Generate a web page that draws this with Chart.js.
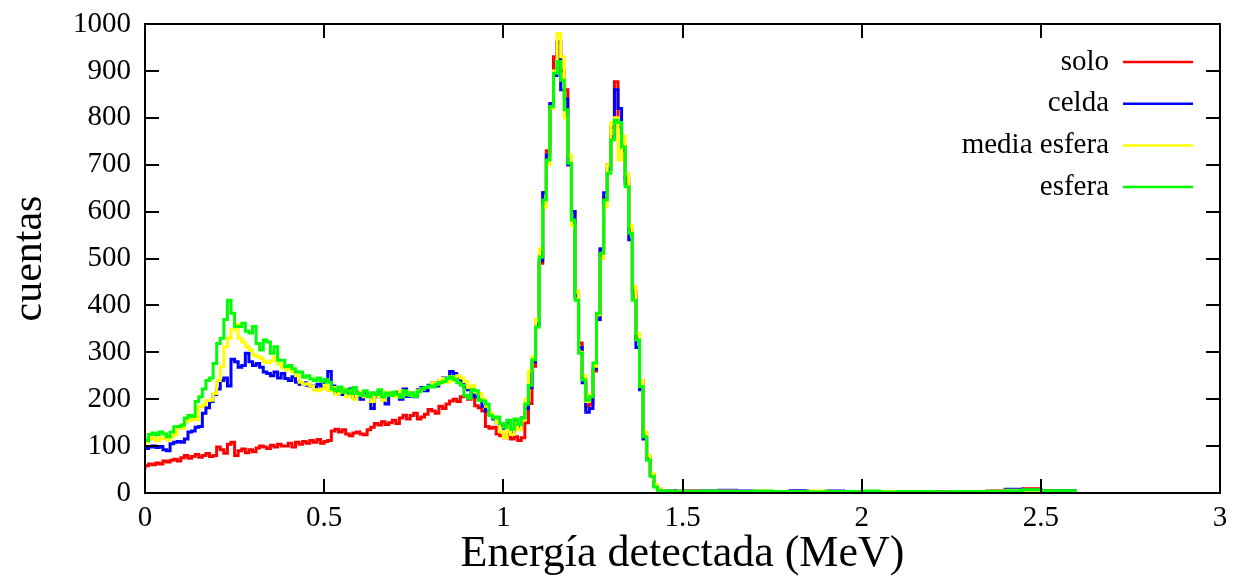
<!DOCTYPE html>
<html>
<head>
<meta charset="utf-8">
<script src="https://cdn.jsdelivr.net/npm/chart.js@4.4.0/dist/chart.umd.min.js"></script>
<style>
  html, body { margin: 0; padding: 0; background: #fff; }
  #wrap { width: 1236px; height: 581px; }
</style>
</head>
<body>
<div id="wrap"><canvas id="c" width="1236" height="581"></canvas></div>
<script>
// bins of 0.01 MeV from 0 to 1.5, then 0.05 MeV bins for the flat tail
const mainStep = 0.01
const tailStart = 1.5
const tailStep = 0.05

const seriesNames = ['solo', 'celda', 'media esfera', 'esfera']

const solo = [
  50, 58, 62, 60, 64, 62, 68, 66, 70, 72,
  68, 75, 80, 74, 78, 82, 76, 80, 84, 78,
  80, 98, 92, 85, 104, 108, 80, 90, 94, 86,
  92, 88, 96, 100, 98, 95, 102, 98, 104, 100,
  100, 106, 98, 108, 104, 110, 106, 112, 108, 114,
  106, 110, 112, 132, 136, 130, 135, 126, 122, 128,
  130, 126, 124, 135, 140, 148, 145, 152, 146, 150,
  155, 148, 160, 166, 158, 165, 170, 158, 162, 168,
  178, 175, 170, 185, 180, 190, 196, 200, 195, 205,
  208, 200, 205, 186, 182, 175, 142, 138, 140, 126,
  122, 118, 125, 115, 120, 112, 118, 150, 191, 270,
  370, 490, 640, 730, 830, 930, 960, 900, 860, 700,
  600, 430, 320, 245, 185, 190, 260, 370, 520, 630,
  700, 780, 877, 780, 740, 670, 560, 430, 330, 240,
  125, 75, 40, 16, 8, 5, 4, 3, 4, 3
]
const celda = [
  100, 95, 98, 100, 97, 99, 92, 90, 105, 108,
  110, 108, 115, 130, 132, 140, 142, 170, 182, 195,
  210, 222, 240, 245, 228, 285, 280, 268, 272, 298,
  280, 272, 276, 268, 258, 255, 250, 258, 245, 255,
  244, 240, 248, 236, 232, 235, 230, 228, 226, 232,
  226, 240, 259, 228, 215, 218, 210, 212, 222, 205,
  215, 200, 212, 208, 180, 205, 215, 200, 190, 212,
  208, 215, 200, 222, 206, 212, 205, 220, 225, 218,
  230, 235, 228, 240, 245, 238, 259, 255, 245, 238,
  225, 220, 210, 205, 200, 185, 175, 168, 158, 150,
  145, 138, 150, 130, 155, 140, 160, 180, 225, 280,
  360, 495, 640, 720, 830, 890, 962, 860, 840, 700,
  600, 420, 310, 235, 172, 180, 265, 370, 520, 640,
  690, 760, 860, 820, 730, 660, 540, 420, 310, 220,
  115, 72, 38, 15, 7, 5, 4, 5, 3, 4
]
const mediaEsfera = [
  112, 108, 115, 118, 112, 116, 118, 113, 120, 125,
  141, 138, 152, 155, 158, 156, 184, 188, 197, 198,
  212, 240, 269, 312, 330, 348, 360, 330, 322, 312,
  305, 295, 291, 288, 280, 278, 282, 290, 275, 268,
  262, 265, 258, 250, 236, 232, 233, 228, 220, 218,
  222, 230, 218, 225, 210, 215, 222, 205, 218, 200,
  210, 215, 205, 208, 195, 212, 206, 198, 215, 210,
  212, 205, 218, 210, 215, 208, 212, 218, 222, 225,
  226, 235, 232, 240, 244, 236, 248, 240, 250, 245,
  238, 225, 230, 215, 212, 200, 185, 170, 162, 150,
  130, 118, 140, 125, 150, 135, 155, 200, 260, 290,
  370, 520, 610, 700, 820, 900, 980, 930, 800, 720,
  570, 430, 300, 250, 195, 210, 270, 380, 500, 610,
  700, 790, 800, 710, 760, 680, 570, 440, 340, 240,
  130, 80, 42, 18, 8, 5, 4, 4, 3, 3
]
const esfera = [
  120, 112, 125, 128, 124, 130, 126, 120, 130, 141,
  142, 145, 160, 165, 163, 195, 205, 222, 240, 245,
  276, 319, 330, 370, 411, 383, 355, 355, 362, 345,
  341, 355, 319, 305, 326, 322, 298, 312, 283, 283,
  269, 272, 265, 258, 258, 247, 250, 243, 240, 245,
  238, 242, 236, 222, 218, 226, 215, 220, 212, 225,
  212, 208, 218, 205, 214, 210, 220, 205, 213, 208,
  215, 210, 204, 218, 209, 214, 206, 216, 222, 225,
  228, 226, 232, 235, 238, 244, 248, 242, 235, 230,
  208, 202, 220, 218, 198, 196, 190, 165, 160, 162,
  148, 140, 155, 136, 158, 146, 160, 190, 230, 284,
  354, 503, 625, 710, 824, 895, 920, 880, 817, 703,
  582, 411, 298, 241, 198, 205, 277, 383, 511, 625,
  682, 753, 795, 790, 738, 653, 554, 411, 326, 227,
  120, 70, 35, 13, 6, 4, 3, 4, 3, 2
]

// tails from 1.5 to 2.6 MeV
const soloTail        = [3, 4, 3, 3, 2, 3, 3, 2, 3, 2, 3, 2, 3, 2, 3, 2, 3, 3, 4, 6, 9, 5]
const celdaTail       = [4, 5, 4, 6, 4, 3, 3, 5, 3, 4, 3, 3, 2, 3, 3, 3, 2, 3, 4, 8, 7, 4]
const mediaEsferaTail = [5, 4, 3, 4, 3, 4, 3, 3, 4, 3, 3, 3, 3, 2, 3, 2, 3, 3, 4, 6, 6, 3]
const esferaTail      = [4, 3, 4, 3, 3, 4, 3, 3, 2, 3, 3, 4, 2, 3, 3, 2, 3, 3, 3, 5, 7, 5]

const xTicks = [0, 0.5, 1, 1.5, 2, 2.5, 3]

const FONT = '"Liberation Serif", "DejaVu Serif", serif'
const colors = ['#ff0000', '#0000ff', '#ffff00', '#00ff00']

function steps(main, tail) {
  const pts = []
  main.forEach((v, i) => pts.push({ x: +(i * mainStep).toFixed(3), y: v }))
  tail.forEach((v, i) => pts.push({ x: +(tailStart + i * tailStep).toFixed(3), y: v }))
  pts.push({ x: +(tailStart + tail.length * tailStep).toFixed(3), y: tail[tail.length - 1] })
  return pts
}

const allData = [
  steps(solo, soloTail),
  steps(celda, celdaTail),
  steps(mediaEsfera, mediaEsferaTail),
  steps(esfera, esferaTail)
]

// frame, inward ticks and the gnuplot-like key
const framePlugin = {
  id: 'frame',
  afterDatasetsDraw(chart) {
    const { ctx, chartArea: a, scales: { x, y } } = chart
    ctx.save()
    ctx.strokeStyle = '#000'
    ctx.lineWidth = 2
    ctx.beginPath()
    y.ticks.forEach(t => {
      const py = Math.round(y.getPixelForValue(t.value))
      ctx.moveTo(a.left, py); ctx.lineTo(a.left + 14, py)
      ctx.moveTo(a.right, py); ctx.lineTo(a.right - 14, py)
    })
    xTicks.forEach(v => {
      const px = Math.round(x.getPixelForValue(v))
      ctx.moveTo(px, a.bottom); ctx.lineTo(px, a.bottom - 14)
      ctx.moveTo(px, a.top); ctx.lineTo(px, a.top + 14)
    })
    ctx.stroke()
    ctx.strokeRect(a.left, a.top, a.right - a.left, a.bottom - a.top)

    // key
    ctx.font = '29px ' + FONT
    ctx.fillStyle = '#000'
    ctx.textAlign = 'right'
    ctx.textBaseline = 'middle'
    seriesNames.forEach((name, i) => {
      const ry = a.top + 38 + i * 41.7
      ctx.fillText(name, a.right - 111, ry)
      ctx.strokeStyle = colors[i]
      ctx.lineWidth = 2.5
      ctx.beginPath()
      ctx.moveTo(a.right - 97, ry)
      ctx.lineTo(a.right - 27, ry)
      ctx.stroke()
    })
    ctx.restore()
  }
}

new Chart(document.getElementById('c'), {
  type: 'line',
  data: {
    datasets: seriesNames.map((name, i) => ({
      label: name,
      data: allData[i],
      borderColor: colors[i],
      backgroundColor: colors[i],
      borderWidth: 3,
      stepped: 'after',
      pointRadius: 0,
      fill: false,
      order: seriesNames.length - i // last series drawn on top
    }))
  },
  options: {
    responsive: false,
    animation: false,
    layout: { padding: { top: 24, right: 16, left: 0, bottom: 0 } },
    plugins: { legend: { display: false }, tooltip: { enabled: false } },
    scales: {
      x: {
        type: 'linear',
        min: 0,
        max: 3,
        afterFit: s => { s.height = 88; s.paddingLeft = 0; s.paddingRight = 0 },
        afterBuildTicks: s => { s.ticks = xTicks.map(v => ({ value: v })) },
        grid: { display: false, drawTicks: false },
        border: { display: false },
        ticks: {
          color: '#000',
          padding: 8,
          maxRotation: 0,
          autoSkip: false,
          font: { family: FONT, size: 29 },
          callback: v => String(v)
        },
        title: {
          display: true,
          text: 'Energía detectada (MeV)',
          color: '#000',
          font: { family: FONT, size: 44, lineHeight: 1.2 },
          padding: { top: 0, bottom: 0 }
        }
      },
      y: {
        min: 0,
        max: 1000,
        afterFit: s => { s.width = 145; s.paddingTop = 0; s.paddingBottom = 0 },
        grid: { display: false, drawTicks: false },
        border: { display: false },
        ticks: {
          stepSize: 100,
          color: '#000',
          padding: 14,
          font: { family: FONT, size: 29 },
          callback: v => String(v)
        },
        title: {
          display: true,
          text: 'cuentas',
          color: '#000',
          font: { family: FONT, size: 42, lineHeight: 1.2 },
          padding: { top: 5, bottom: 0 }
        }
      }
    }
  },
  plugins: [framePlugin]
})
</script>
</body>
</html>
